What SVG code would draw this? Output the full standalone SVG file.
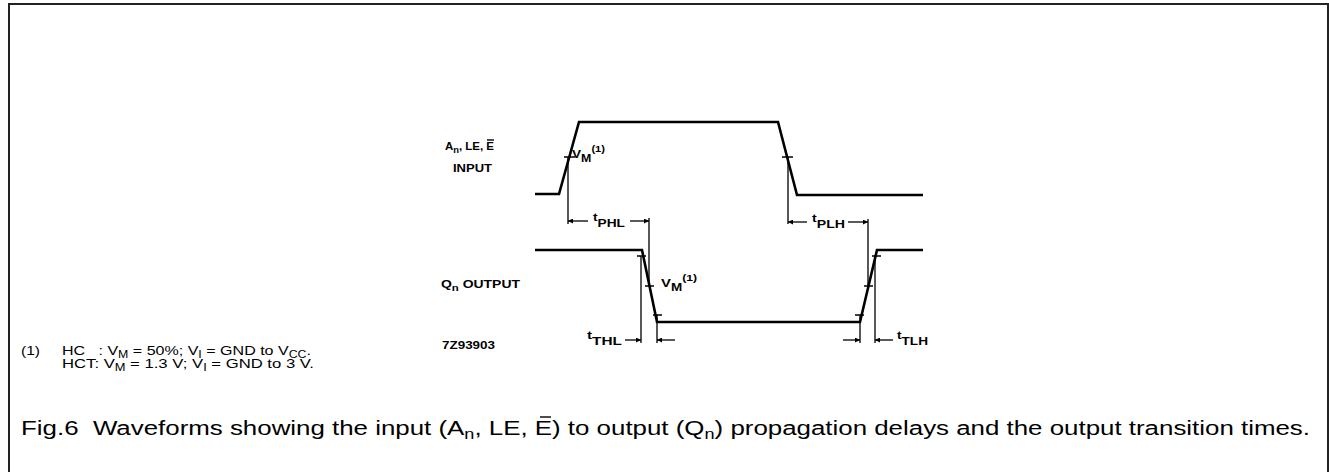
<svg xmlns="http://www.w3.org/2000/svg" width="1329" height="472" viewBox="0 0 1329 472">
<style>
.frame{fill:none;stroke:#222;stroke-width:2}
.wave{fill:none;stroke:#000;stroke-width:2.6;stroke-linejoin:miter}
.dim{fill:none;stroke:#000;stroke-width:1.3}
.tick{fill:none;stroke:#000;stroke-width:1.4}
.bar{fill:none;stroke:#000;stroke-width:1.4}
.lbl{font-family:"Liberation Sans",Arial,sans-serif;font-weight:bold;font-size:11px;fill:#000}
.note{font-family:"Liberation Sans",Arial,sans-serif;font-size:13px;fill:#000}
.cap{font-family:"Liberation Sans",Arial,sans-serif;font-size:20px;fill:#000}
</style>
<defs>
<marker id="ah" viewBox="0 0 10 10" refX="10" refY="5" markerWidth="7" markerHeight="5" markerUnits="userSpaceOnUse" orient="auto">
<path d="M0,0 L10,5 L0,10 Z" fill="#000"/>
</marker>
</defs>
<path class="frame" d="M9,472 V4 H1328 V472"/>
<g id="input-wave">
<path class="wave" d="M535,194 H559 L579,122 H778 L797,195 H923"/>
<path class="tick" d="M564,157 H575 M782,157 H793"/>
</g>
<g id="output-wave">
<path class="wave" d="M535,250 H642 L657,322 H860 L877,250 H923"/>
<path class="tick" d="M637,256 H646 M645,286 H654 M653,315 H662 M855,315 H864 M864,286 H873 M872,256 H881"/>
</g>
<g id="connectors">
<path class="dim" d="M568,157 V224 M649,218 V286 M641,256 V343 M657,315 V343 M788,157 V224 M868,219 V286 M860,315 V343 M875,256 V343"/>
<path class="dim" marker-end="url(#ah)" d="M588,221 H568"/>
<path class="dim" marker-end="url(#ah)" d="M630,221 H649"/>
<path class="dim" marker-end="url(#ah)" d="M807,222 H788"/>
<path class="dim" marker-end="url(#ah)" d="M848,222 H868"/>
<path class="dim" marker-end="url(#ah)" d="M625,340 H641"/>
<path class="dim" marker-end="url(#ah)" d="M675,340 H657"/>
<path class="dim" marker-end="url(#ah)" d="M843,340 H860"/>
<path class="dim" marker-end="url(#ah)" d="M893,340 H875"/>
</g>
<g id="labels">
<text class="lbl" x="445" y="150" textLength="49" lengthAdjust="spacingAndGlyphs">A<tspan dy="3" font-size="9">n</tspan><tspan dy="-3">, LE, E</tspan></text>
<path class="bar" d="M487,140 H494"/>
<text class="lbl" x="453" y="172" textLength="39" lengthAdjust="spacingAndGlyphs">INPUT</text>
<text class="lbl" x="441" y="288" textLength="79" lengthAdjust="spacingAndGlyphs">Q<tspan dy="3" font-size="9">n</tspan><tspan dy="-3"> OUTPUT</tspan></text>
<text class="lbl" x="442" y="349" textLength="53" lengthAdjust="spacingAndGlyphs">7Z93903</text>
<text class="lbl" x="572" y="158" font-size="12" textLength="33" lengthAdjust="spacingAndGlyphs">V<tspan dy="4" font-size="10">M</tspan><tspan dy="-10" font-size="9">(1)</tspan></text>
<text class="lbl" x="661" y="287" font-size="12" textLength="36" lengthAdjust="spacingAndGlyphs">V<tspan dy="4" font-size="10">M</tspan><tspan dy="-10" font-size="9">(1)</tspan></text>
<text class="lbl" x="593" y="221" font-size="9" textLength="32" lengthAdjust="spacingAndGlyphs">t<tspan dy="6" font-size="11">PHL</tspan></text>
<text class="lbl" x="812" y="222" font-size="9" textLength="33" lengthAdjust="spacingAndGlyphs">t<tspan dy="6" font-size="11">PLH</tspan></text>
<text class="lbl" x="587" y="339" font-size="9" textLength="35" lengthAdjust="spacingAndGlyphs">t<tspan dy="6" font-size="11">THL</tspan></text>
<text class="lbl" x="897" y="339" font-size="9" textLength="31" lengthAdjust="spacingAndGlyphs">t<tspan dy="6" font-size="11">TLH</tspan></text>
</g>
<g id="footnote">
<text class="note" x="21" y="355" textLength="19" lengthAdjust="spacingAndGlyphs">(1)</text>
<text class="note" x="62" y="355" xml:space="preserve" textLength="249" lengthAdjust="spacingAndGlyphs">HC   : V<tspan dy="3" font-size="10">M</tspan><tspan dy="-3"> = 50%; V</tspan><tspan dy="3" font-size="10">I</tspan><tspan dy="-3"> = GND to V</tspan><tspan dy="3" font-size="10">CC</tspan><tspan dy="-3">.</tspan></text>
<text class="note" x="62" y="368" textLength="252" lengthAdjust="spacingAndGlyphs">HCT: V<tspan dy="3" font-size="10">M</tspan><tspan dy="-3"> = 1.3 V; V</tspan><tspan dy="3" font-size="10">I</tspan><tspan dy="-3"> = GND to 3 V.</tspan></text>
</g>
<g id="caption">
<text class="cap" x="21" y="435" xml:space="preserve" textLength="1289" lengthAdjust="spacingAndGlyphs">Fig.6  Waveforms showing the input (A<tspan dy="4" font-size="14">n</tspan><tspan dy="-4">, LE, E) to output (Q</tspan><tspan dy="4" font-size="14">n</tspan><tspan dy="-4">) propagation delays and the output transition times.</tspan></text>
<path class="bar" d="M540,417 H551"/>
</g>
</svg>
